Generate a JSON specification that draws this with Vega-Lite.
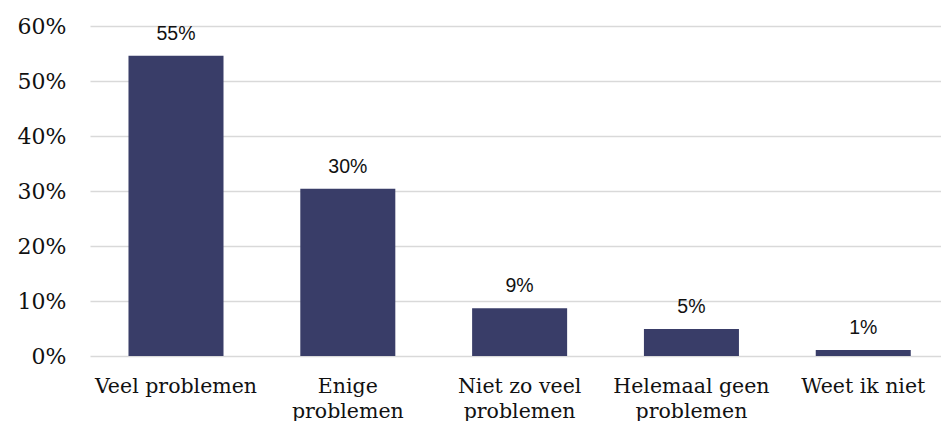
{
  "$schema": "https://vega.github.io/schema/vega-lite/v6.json",
  "autosize": "none",
  "padding": {"left": 90, "top": 26, "right": 0, "bottom": 65},
  "width": 851,
  "height": 330,
  "background": "white",
  "data": {"values": [
    {"category": "Veel problemen", "share": 0.546},
    {"category": "Enige problemen", "share": 0.304},
    {"category": "Niet zo veel problemen", "share": 0.087},
    {"category": "Helemaal geen problemen", "share": 0.049},
    {"category": "Weet ik niet", "share": 0.011}
  ]},
  "config": {"view": {"stroke": null}},
  "encoding": {
    "x": {
      "field": "category", "type": "nominal", "sort": null,
      "scale": {"paddingInner": 0.447, "paddingOuter": 0.2, "align": 0.56},
      "axis": {
        "title": null, "labelAngle": 0, "ticks": false, "domain": false,
        "labelFont": "DejaVu Serif", "labelFontSize": 20.5, "labelColor": "#111111",
        "labelPadding": 20, "labelLineHeight": 25,
        "labelExpr": "datum.value == 'Enige problemen' ? ['Enige', 'problemen'] : datum.value == 'Niet zo veel problemen' ? ['Niet zo veel', 'problemen'] : datum.value == 'Helemaal geen problemen' ? ['Helemaal geen', 'problemen'] : datum.value"
      }
    },
    "y": {
      "field": "share", "type": "quantitative",
      "scale": {"domain": [0, 0.6], "nice": false},
      "axis": {
        "title": null, "values": [0, 0.1, 0.2, 0.3, 0.4, 0.5, 0.6], "format": ".0%",
        "ticks": false, "domain": false, "labelPadding": 24,
        "labelFont": "DejaVu Serif", "labelFontSize": 22, "labelColor": "#111111",
        "gridColor": "#d9d9d9", "gridWidth": 1.5
      }
    }
  },
  "layer": [
    {"mark": {"type": "bar", "color": "#393d68"}},
    {
      "mark": {"type": "text", "baseline": "alphabetic", "dy": -16, "font": "Liberation Sans", "fontSize": 19.5, "color": "#111111"},
      "encoding": {"text": {"field": "share", "type": "quantitative", "format": ".0%"}}
    }
  ]
}
